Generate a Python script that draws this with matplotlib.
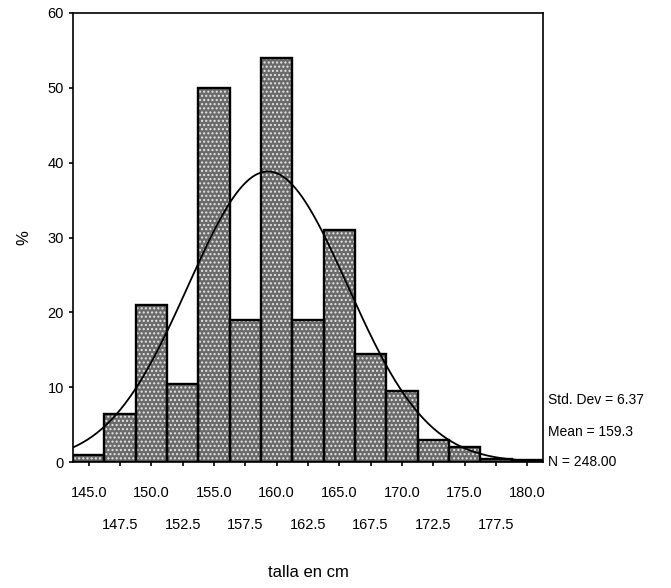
import numpy as np
import matplotlib
matplotlib.use('Agg')
from matplotlib import pyplot as plt

plt.rcParams['font.family'] = ['Liberation Sans', 'DejaVu Sans']

# bin centres (cm) and bar heights
talla = [145.0, 147.5, 150.0, 152.5, 155.0, 157.5, 160.0, 162.5,
         165.0, 167.5, 170.0, 172.5, 175.0, 177.5, 180.0]
pct = [1.0, 6.5, 21.0, 10.5, 50.0, 19.0, 54.0, 19.0,
       31.0, 14.5, 9.5, 3.0, 2.0, 0.4, 0.3]
tick_labels = ['145.0', '147.5', '150.0', '152.5', '155.0', '157.5', '160.0', '162.5',
               '165.0', '167.5', '170.0', '172.5', '175.0', '177.5', '180.0']

# stats printed beside the chart
std_dev = 6.37
mean = 159.3
n = 248.00
width = 2.5

fig = plt.figure(figsize=(6.71, 5.88), dpi=100)
ax = fig.add_axes([0.109, 0.214, 0.700, 0.764])

# stippled grey fill, then black outline on top
ax.bar(talla, pct, width=width, color='#6a6a6a', edgecolor='#e6e6e6',
       hatch='....', linewidth=0, zorder=2)
ax.bar(talla, pct, width=width, fill=False, edgecolor='black',
       linewidth=1.7, zorder=3)

# fitted normal curve from the stats shown
x = np.linspace(talla[0] - width / 2, talla[-1] + width / 2, 300)
y = n * width / (std_dev * np.sqrt(2 * np.pi)) * np.exp(-0.5 * ((x - mean) / std_dev) ** 2)
ax.plot(x, y, color='black', linewidth=1.3, zorder=4)

ax.set_xlim(talla[0] - width / 2, talla[-1] + width / 2)
ax.set_ylim(0, 60)
ax.set_yticks([0, 10, 20, 30, 40, 50, 60])

# labels alternate on two rows: major ticks top row, minor ticks bottom row
ax.set_xticks(talla[::2])
ax.set_xticklabels(tick_labels[::2])
ax.set_xticks(talla[1::2], minor=True)
ax.set_xticklabels(tick_labels[1::2], minor=True)
ax.tick_params(axis='both', which='both', labelsize=10.5, length=3, width=1.2, direction='out')
ax.tick_params(axis='x', which='major', pad=14)
ax.tick_params(axis='x', which='minor', pad=37)
for s in ax.spines.values():
    s.set_linewidth(1.2)

ax.set_ylabel('%', fontsize=12, labelpad=12)
ax.set_xlabel('talla en cm', fontsize=12)
ax.xaxis.set_label_coords(0.5, -0.228)

fig.text(0.816, 0.320, f'Std. Dev = {std_dev:.2f}', fontsize=10, va='center')
fig.text(0.816, 0.266, f'Mean = {mean:.1f}', fontsize=10, va='center')
fig.text(0.816, 0.214, f'N = {n:.2f}', fontsize=10, va='center')

fig.savefig('out.png', dpi=100)
